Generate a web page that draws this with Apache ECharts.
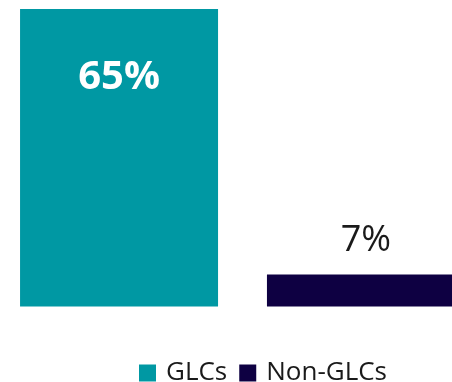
<!DOCTYPE html>
<html>
<head>
<meta charset="utf-8">
<script src="https://cdn.jsdelivr.net/npm/echarts@6/dist/echarts.min.js"></script>
<style>
html,body{margin:0;padding:0;background:#fff;}
#chart{width:452px;height:382px;}
</style>
</head>
<body>
<div id="chart"></div>
<script>
var categories = [''];
var seriesNames = ['GLCs', 'Non-GLCs'];
var glcValues = [65];
var nonGlcValues = [7];
var colors = ['#0098A3', '#0E0042'];

var chart = echarts.init(document.getElementById('chart'), null, {renderer: 'canvas'});
chart.setOption({
  animation: false,
  grid: {left: 33, right: 0, top: 9, bottom: 75.5},
  xAxis: {type: 'category', data: categories, show: false},
  yAxis: {type: 'value', min: 0, max: 65, show: false},
  legend: {
    data: seriesNames,
    left: 139, top: 360, padding: 0,
    itemWidth: 17, itemHeight: 17, itemGap: 12,
    icon: 'rect',
    textStyle: {fontFamily: 'Open Sans', fontSize: 26, color: '#1a1a1a', padding: [0, 0, 0, 5]}
  },
  series: [
    {
      name: seriesNames[0], type: 'bar', data: glcValues, clip: false,
      barWidth: 198, barGap: '24.7%',
      itemStyle: {color: colors[0]},
      label: {
        show: true, position: 'insideTop', distance: 49,
        formatter: '{c}%', color: '#fff',
        fontFamily: 'Open Sans', fontWeight: 'bold', fontSize: 40
      }
    },
    {
      name: seriesNames[1], type: 'bar', data: nonGlcValues, clip: false,
      barWidth: 198,
      itemStyle: {color: colors[1]},
      label: {
        show: true, position: 'top', distance: 16,
        formatter: '{c}%', color: '#1a1a1a',
        fontFamily: 'Open Sans', fontSize: 36
      }
    }
  ]
});
</script>
</body>
</html>
